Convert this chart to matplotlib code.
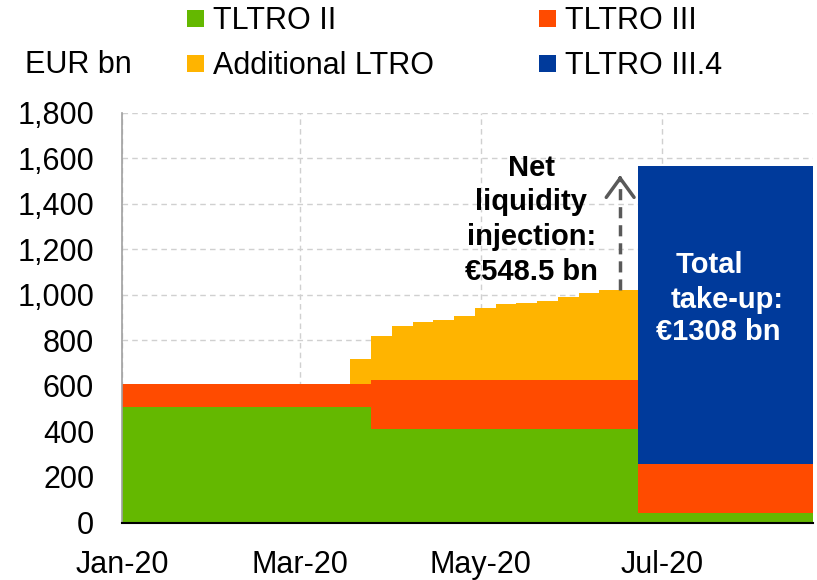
import numpy as np
import pandas as pd
import matplotlib
matplotlib.use("Agg")
import matplotlib.pyplot as plt
import matplotlib.dates as mdates
from matplotlib.patches import Patch

plt.rcParams['font.family'] = ['Liberation Sans', 'DejaVu Sans']

# ----- data (EUR bn outstanding, value holds from each date on) -----
dates = ["2020-01-01", "2020-03-18", "2020-03-25", "2020-04-01", "2020-04-08",
         "2020-04-15", "2020-04-22", "2020-04-29", "2020-05-06", "2020-05-13",
         "2020-05-20", "2020-05-27", "2020-06-03", "2020-06-10", "2020-06-17",
         "2020-06-23", "2020-08-21"]
tltro_2 = [506, 506, 412, 412, 412, 412, 412, 412, 412, 412,
           412, 412, 412, 412, 412, 40, 40]
tltro_3 = [101, 101, 214, 214, 214, 214, 214, 214, 214, 214,
           214, 214, 214, 214, 214, 216, 216]
add_ltro = [0, 110, 193, 237, 256, 264, 280, 318, 334, 339,
            348, 366, 381, 394, 395, 0, 0]
tltro_34 = [0, 0, 0, 0, 0, 0, 0, 0, 0, 0,
            0, 0, 0, 0, 0, 1308, 1308]

labels = ["TLTRO II", "Additional LTRO", "TLTRO III", "TLTRO III.4"]
colors = {"TLTRO II": "#64B800", "TLTRO III": "#FF4B00",
          "Additional LTRO": "#FFB400", "TLTRO III.4": "#003A9B"}

x_ticks = ["2020-01-01", "2020-03-01", "2020-05-01", "2020-07-01"]
y_ticks = np.arange(0, 1801, 200)

net_inj_date = "2020-06-17"
net_inj_from, net_inj_to = 1022, 1525

# ----- plot -----
d = pd.to_datetime(dates)
s1 = np.array(tltro_2)
s2 = s1 + np.array(tltro_3)
s3 = s2 + np.array(add_ltro)
s4 = s2 + np.array(tltro_34)

fig = plt.figure(figsize=(8.17, 5.8), dpi=100)
ax = fig.add_axes([0.1493, 0.0991, 0.8457, 0.7066])

ax.fill_between(d, 0, s1, step='post', color=colors["TLTRO II"], lw=0)
ax.fill_between(d, s1, s2, step='post', color=colors["TLTRO III"], lw=0)
ax.fill_between(d, s2, s3, step='post', color=colors["Additional LTRO"], lw=0)
ax.fill_between(d, s2, s4, step='post', color=colors["TLTRO III.4"], lw=0,
                where=np.array(tltro_34) > 0)

ax.set_xlim(d[0], d[-1])
ax.set_ylim(0, 1800)
ax.set_yticks(y_ticks)
ax.set_yticklabels([f"{v:,}" for v in y_ticks])
ax.set_xticks(pd.to_datetime(x_ticks))
ax.xaxis.set_major_formatter(mdates.DateFormatter("%b-%y"))
ax.tick_params(axis='y', length=0, pad=20, labelsize=22)
ax.tick_params(axis='x', length=0, pad=20, labelsize=22)

ax.grid(True, ls=(0, (4, 3)), color='#D0D0D0', lw=1)
ax.set_axisbelow(True)
for sp in ['top', 'right']:
    ax.spines[sp].set_visible(False)
ax.spines['left'].set_color('#A0A0A0')
ax.spines['left'].set_linewidth(1.2)
ax.spines['bottom'].set_color('black')
ax.spines['bottom'].set_linewidth(1.5)
ax.spines['bottom'].set_zorder(5)

# net liquidity arrow
xd = pd.to_datetime(net_inj_date)
ax.plot([xd, xd], [net_inj_from, net_inj_to - 15], ls=(0, (3.2, 2)),
        lw=2.5, color='#595959')
ax.annotate('', xy=(xd, net_inj_to), xytext=(xd, net_inj_to - 20),
            arrowprops=dict(arrowstyle='->,head_length=0.55,head_width=0.4',
                            lw=2.5, color='#595959', shrinkA=0, shrinkB=0,
                            mutation_scale=25))

ax.text(pd.to_datetime("2020-05-18"), 1330, "Net\nliquidity\ninjection:\n€548.5 bn",
        ha='center', va='center', fontsize=21, fontweight='bold',
        linespacing=1.3)
ax.text(pd.to_datetime("2020-07-17"), 1096, "Total", ha='center', va='baseline',
        fontsize=21, fontweight='bold', color='white')
ax.text(pd.to_datetime("2020-07-23"), 942, "take-up:", ha='center', va='baseline',
        fontsize=21, fontweight='bold', color='white')
ax.text(pd.to_datetime("2020-07-20"), 802, "€1308 bn", ha='center', va='baseline',
        fontsize=21, fontweight='bold', color='white')

# legend
handles = [Patch(facecolor=colors[l], edgecolor='none') for l in labels]
fig.legend(handles, labels, loc='upper left', bbox_to_anchor=(0.222, 1.0),
           ncol=2, frameon=False, fontsize=22, handlelength=0.55,
           handleheight=0.5, handletextpad=0.28, columnspacing=3.45,
           labelspacing=0.5, borderpad=0.2, borderaxespad=0)
fig.text(25 / 817, 1 - 65 / 580, "EUR bn", fontsize=22, va='center', ha='left')

fig.savefig("out.png", dpi=100)
